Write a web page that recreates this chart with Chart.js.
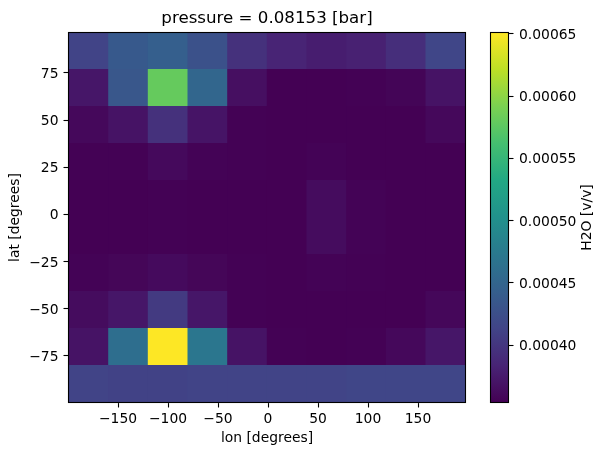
<!DOCTYPE html>
<html>
<head>
<meta charset="utf-8">
<title>H2O map</title>
<script src="https://cdn.jsdelivr.net/npm/chart.js@4"></script>
<style>
  body { margin: 0; background: #fff; }
  canvas { position: absolute; top: 0; }
  #mapChart { left: 0; }
  #barChart { left: 480px; }
</style>
</head>
<body>
<canvas id="mapChart" width="480" height="455"></canvas>
<canvas id="barChart" width="124" height="455"></canvas>
<script>
// cell centres in longitude, cell edges in latitude (top to bottom)
const lons = [-179.2, -139.5, -99.9, -60.2, -20.5, 19.1, 58.8, 98.5, 138.1, 177.8];
const latEdges = [96.4, 77.3, 57.7, 38.1, 18.45, -1.17, -20.8, -40.4, -60, -79.6, -99.8];

// H2O [v/v], one row per latitude band
const h2oRows = [
  [0.000413, 0.000437, 0.000443, 0.000428, 0.000396, 0.000384, 0.000378, 0.000381, 0.000393, 0.000416],
  [0.000372, 0.000434, 0.000580, 0.000452, 0.000366, 0.000354, 0.000354, 0.000355, 0.000357, 0.000369],
  [0.000360, 0.000369, 0.000396, 0.000370, 0.000355, 0.000354, 0.000354, 0.000354, 0.000354, 0.000360],
  [0.000355, 0.000355, 0.000361, 0.000356, 0.000355, 0.000354, 0.000356, 0.000354, 0.000354, 0.000354],
  [0.000354, 0.000354, 0.000355, 0.000354, 0.000354, 0.000354, 0.000363, 0.000356, 0.000354, 0.000354],
  [0.000354, 0.000354, 0.000355, 0.000354, 0.000354, 0.000354, 0.000363, 0.000356, 0.000354, 0.000354],
  [0.000356, 0.000358, 0.000362, 0.000358, 0.000355, 0.000354, 0.000356, 0.000355, 0.000354, 0.000354],
  [0.000363, 0.000372, 0.000404, 0.000372, 0.000355, 0.000354, 0.000354, 0.000354, 0.000354, 0.000359],
  [0.000369, 0.000461, 0.000651, 0.000470, 0.000369, 0.000355, 0.000354, 0.000355, 0.000360, 0.000372],
  [0.000413, 0.000412, 0.000412, 0.000413, 0.000413, 0.000413, 0.000413, 0.000416, 0.000416, 0.000416]
];

const lonTicks = [-150, -100, -50, 0, 50, 100, 150];
const latTicks = [-75, -50, -25, 0, 25, 50, 75];
const barTicks = [0.0004, 0.00045, 0.0005, 0.00055, 0.0006, 0.00065];
const vmin = 0.000354;
const vmax = 0.000651;

const viridis = [
  [68, 1, 84], [72, 36, 117], [65, 68, 135], [53, 95, 141], [42, 120, 142], [33, 145, 140],
  [34, 168, 132], [68, 191, 112], [122, 209, 81], [189, 223, 38], [253, 231, 37]
];

// value to colour, linear between the stops of viridis
function colorFor(value) {
  const t = Math.min(1, Math.max(0, (value - vmin) / (vmax - vmin))) * (viridis.length - 1);
  const i = Math.min(Math.floor(t), viridis.length - 2);
  const f = t - i;
  const c = viridis[i].map((a, k) => Math.round(a + (viridis[i + 1][k] - a) * f));
  return `rgb(${c[0]}, ${c[1]}, ${c[2]})`;
}

const tickFont = { family: 'DejaVu Sans', size: 13.89 };

// black box round the plot area
const framePlugin = {
  id: 'frame',
  afterDraw(chart) {
    const a = chart.chartArea;
    const ctx = chart.ctx;
    ctx.save();
    ctx.strokeStyle = '#000';
    ctx.lineWidth = 1.1;
    ctx.strokeRect(a.left, a.top, a.right - a.left, a.bottom - a.top);
    ctx.restore();
  }
};

// Chart.js turns a right axis title the other way, so this one is drawn here
const barTitlePlugin = {
  id: 'barTitle',
  afterDraw(chart) {
    const ctx = chart.ctx;
    ctx.save();
    ctx.translate(107.5, 217.5);
    ctx.rotate(-Math.PI / 2);
    ctx.font = "13.89px 'DejaVu Sans'";
    ctx.fillStyle = '#000';
    ctx.textAlign = 'center';
    ctx.textBaseline = 'middle';
    ctx.fillText('H2O [v/v]', 0, 0);
    ctx.restore();
  }
};

function tickOptions(length) {
  return { drawOnChartArea: false, drawTicks: true, tickLength: length, tickColor: '#000', tickWidth: 1.1, offset: false };
}

const minus = v => String(v).replace('-', '\u2212');

new Chart(document.getElementById('mapChart'), {
  type: 'bar',
  data: {
    datasets: h2oRows.map((row, i) => ({
      data: row.map((v, j) => ({ x: lons[j], y: [latEdges[i + 1], latEdges[i]] })),
      backgroundColor: row.map(colorFor),
      grouped: false,
      barPercentage: 1,
      categoryPercentage: 1,
      inflateAmount: 0.5
    }))
  },
  options: {
    responsive: false,
    animation: false,
    layout: { padding: { left: 0, right: 14.5, top: 0, bottom: 0 } },
    plugins: {
      legend: { display: false },
      tooltip: { enabled: false },
      title: {
        display: true,
        text: 'pressure = 0.08153 [bar]',
        color: '#000',
        fullSize: false,
        font: { family: 'DejaVu Sans', size: 16.67, weight: 'normal', lineHeight: 1.2 },
        padding: { top: 8.5, bottom: 4 }
      }
    },
    scales: {
      x: {
        type: 'linear',
        min: -199.5,
        max: 197.5,
        offset: false,
        grid: tickOptions(5),
        border: { display: true, color: '#000', width: 1.1 },
        afterBuildTicks: scale => { scale.ticks = lonTicks.map(value => ({ value })); },
        afterFit: scale => { scale.height = 52.5; },
        ticks: { color: '#000', font: tickFont, padding: 4, maxRotation: 0, callback: minus },
        title: { display: true, text: 'lon [degrees]', color: '#000', font: tickFont, padding: { top: 0, bottom: 8 } }
      },
      y: {
        type: 'linear',
        min: -99.8,
        max: 96.4,
        grid: tickOptions(5),
        border: { display: true, color: '#000', width: 1.1 },
        afterBuildTicks: scale => { scale.ticks = latTicks.map(value => ({ value })); },
        afterFit: scale => { scale.width = 68.5; },
        ticks: { color: '#000', font: tickFont, padding: 5, labelOffset: 1.5, callback: minus },
        title: { display: true, text: 'lat [degrees]', color: '#000', font: tickFont, padding: { top: 7, bottom: 0 } }
      }
    }
  },
  plugins: [framePlugin]
});

new Chart(document.getElementById('barChart'), {
  type: 'bar',
  data: {
    labels: [''],
    datasets: [{
      data: [[vmin, vmax]],
      barPercentage: 1,
      categoryPercentage: 1,
      backgroundColor: context => {
        const area = context.chart.chartArea;
        if (!area) return '#440154';
        const gradient = context.chart.ctx.createLinearGradient(0, area.bottom, 0, area.top);
        viridis.forEach((c, i) => gradient.addColorStop(i / (viridis.length - 1), `rgb(${c[0]}, ${c[1]}, ${c[2]})`));
        return gradient;
      }
    }]
  },
  options: {
    responsive: false,
    animation: false,
    layout: { padding: { left: 10.5, right: 0, top: 32.5, bottom: 52.5 } },
    plugins: { legend: { display: false }, tooltip: { enabled: false } },
    scales: {
      x: { display: false },
      y: {
        position: 'right',
        min: vmin,
        max: vmax,
        grid: tickOptions(5),
        border: { display: false },
        afterBuildTicks: scale => { scale.ticks = barTicks.map(value => ({ value })); },
        afterFit: scale => { scale.width = 95.5; },
        ticks: { color: '#000', font: tickFont, padding: 5.5, labelOffset: 1.5, callback: v => v.toFixed(5) }
      }
    }
  },
  plugins: [framePlugin, barTitlePlugin]
});
</script>
</body>
</html>
